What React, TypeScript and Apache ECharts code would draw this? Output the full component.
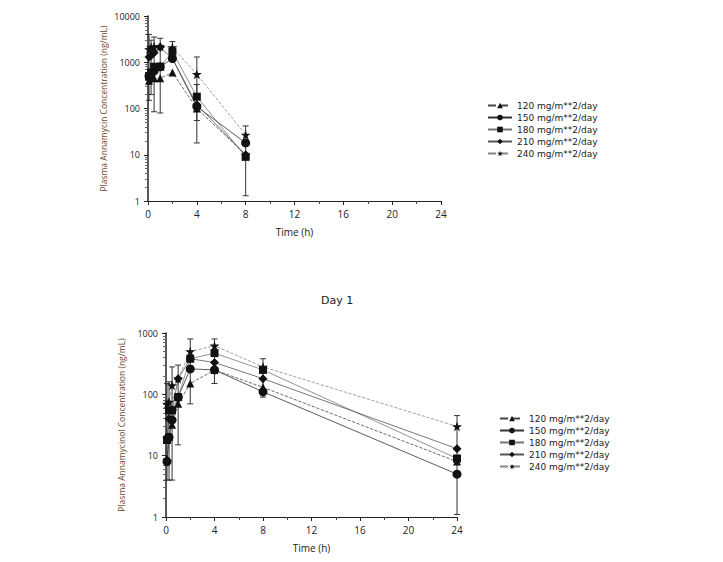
import React, { useEffect, useRef } from 'react';
import * as echarts from 'echarts';

const doses = ['120 mg/m**2/day', '150 mg/m**2/day', '180 mg/m**2/day', '210 mg/m**2/day', '240 mg/m**2/day'];
const STAR = 'path://M50,0 L61,35 L98,35 L68,57 L79,91 L50,70 L21,91 L32,57 L2,35 L39,35 Z';
const symbols = ['triangle', 'circle', 'rect', 'diamond', STAR];
const symbolSizes = [8, 9, 8, 9, 10];

const timesTop = [0.083, 0.25, 0.5, 1, 2, 4, 8];
const topValues = [
  [400, 450, 450, 450, 600, 100, 10],
  [500, 550, 650, 800, 1200, 110, 18],
  [500, 600, 800, 800, 1700, 180, 9],
  [1300, 1400, 1600, 2100, 1200, 120, 10],
  [1900, 2100, 2200, 2200, 2100, 550, 27],
];
// [x, low, high]
const topErrors = [
  [0.083, 150, 4000], [0.25, 200, 3000], [0.5, 85, 3500], [1, 80, 3300],
  [2, 1500, 2800], [4, 18, 1300], [4, 55, 330], [8, 1.3, 42],
];

const timesBottom = [0.083, 0.25, 0.5, 1, 2, 4, 8, 24];
const bottomValues = [
  [9, 20, 32, 70, 150, 250, 130, 8],
  [8, 20, 38, 90, 260, 250, 110, 5],
  [18, 55, 55, 90, 380, 470, 250, 9],
  [20, 40, 55, 180, 380, 330, 180, 13],
  [70, 75, 140, 180, 500, 620, 280, 30],
];
const bottomErrors = [
  [0.083, 4, 150], [0.25, 4, 160], [0.5, 4, 280], [1, 15, 300],
  [2, 70, 800], [4, 150, 800], [8, 90, 380], [24, 1.1, 45],
];

const lineColors = ['#444', '#333', '#777', '#555', '#888'];

export default function App() {
  const ref = useRef<HTMLDivElement>(null);

  useEffect(() => {
    if (!ref.current) return;
    const chart = echarts.init(ref.current, null, { renderer: 'svg' });

    const xAxisBase = (gi: number) => ({
      type: 'value' as const,
      gridIndex: gi,
      min: 0,
      max: 24,
      interval: 4,
      name: 'Time (h)',
      nameLocation: 'middle' as const,
      nameGap: 26,
      nameTextStyle: { color: '#222', fontSize: 10, fontFamily: 'Open Sans' },
      axisLine: { onZero: false, lineStyle: { color: '#222' } },
      axisTick: { inside: false, length: 4, lineStyle: { color: '#222' } },
      minorTick: { show: true, splitNumber: 2, length: 3, lineStyle: { color: '#444' } },
      axisLabel: { color: '#222', fontSize: 10, fontFamily: 'Open Sans' },
      splitLine: { show: false },
    });
    const yAxisBase = (gi: number, max: number, name: string) => ({
      type: 'log' as const,
      gridIndex: gi,
      min: 1,
      max,
      logBase: 10,
      name,
      nameLocation: 'middle' as const,
      nameGap: 40,
      nameTextStyle: { color: '#6b4a2a', fontSize: 8.5, fontFamily: 'Liberation Sans Narrow, Open Sans' },
      axisLine: { show: true, lineStyle: { color: '#222', width: 1.5 } },
      axisTick: { show: true, length: 4, lineStyle: { color: '#222' } },
      minorTick: { show: true, splitNumber: 9, length: 3, lineStyle: { color: '#666' } },
      axisLabel: { color: '#222', fontSize: 9, fontFamily: 'Open Sans', formatter: (v: number) => String(v) },
      splitLine: { show: false },
    });

    const errSeries = (gi: number, data: number[][]) => ({
      type: 'custom' as const,
      xAxisIndex: gi,
      yAxisIndex: gi,
      silent: true,
      data,
      renderItem: (_p: any, api: any) => {
        const x = api.value(0);
        const lo = api.coord([x, api.value(1)]);
        const hi = api.coord([x, api.value(2)]);
        const w = 3;
        const st = { stroke: '#333', lineWidth: 1 };
        return {
          type: 'group',
          children: [
            { type: 'line', shape: { x1: lo[0], y1: lo[1], x2: hi[0], y2: hi[1] }, style: st },
            { type: 'line', shape: { x1: lo[0] - w, y1: lo[1], x2: lo[0] + w, y2: lo[1] }, style: st },
            { type: 'line', shape: { x1: hi[0] - w, y1: hi[1], x2: hi[0] + w, y2: hi[1] }, style: st },
          ],
        };
      },
    });

    const lineSeries = (gi: number, times: number[], values: number[][]) =>
      values.map((vals, i) => ({
        name: doses[i],
        type: 'line' as const,
        xAxisIndex: gi,
        yAxisIndex: gi,
        data: times.map((t, j) => [t, vals[j]]),
        symbol: symbols[i],
        symbolSize: symbolSizes[i],
        itemStyle: { color: '#111' },
        lineStyle: { color: lineColors[i], width: 0.8, type: i === 0 || i === 4 ? 'dashed' : 'solid' },
      }));

    const legendBase = {
      data: doses,
      orient: 'vertical' as const,
      itemWidth: 24,
      itemHeight: 7,
      itemGap: 3,
      textStyle: { fontSize: 9, color: '#222', fontFamily: 'DejaVu Sans' },
    };

    chart.setOption({
      animation: false,
      backgroundColor: '#fff',
      title: {
        text: 'Day 1',
        left: 308,
        top: 282,
        textStyle: { fontSize: 11, fontWeight: 'normal', color: '#222', fontFamily: 'DejaVu Sans' },
      },
      legend: [
        { ...legendBase, left: 474, top: 88 },
        { ...legendBase, left: 486, top: 401 },
      ],
      grid: [
        { left: 140, top: 8, width: 293, height: 185 },
        { left: 158, top: 325, width: 291, height: 184 },
      ],
      xAxis: [xAxisBase(0), xAxisBase(1)],
      yAxis: [
        yAxisBase(0, 10000, 'Plasma Annamycin Concentration (ng/mL)'),
        yAxisBase(1, 1000, 'Plasma Annamycinol Concentration (ng/mL)'),
      ],
      series: [
        errSeries(0, topErrors),
        errSeries(1, bottomErrors),
        ...lineSeries(0, timesTop, topValues),
        ...lineSeries(1, timesBottom, bottomValues),
      ],
    });

    return () => chart.dispose();
  }, []);

  return <div ref={ref} style={{ width: 707, height: 546 }} />;
}
